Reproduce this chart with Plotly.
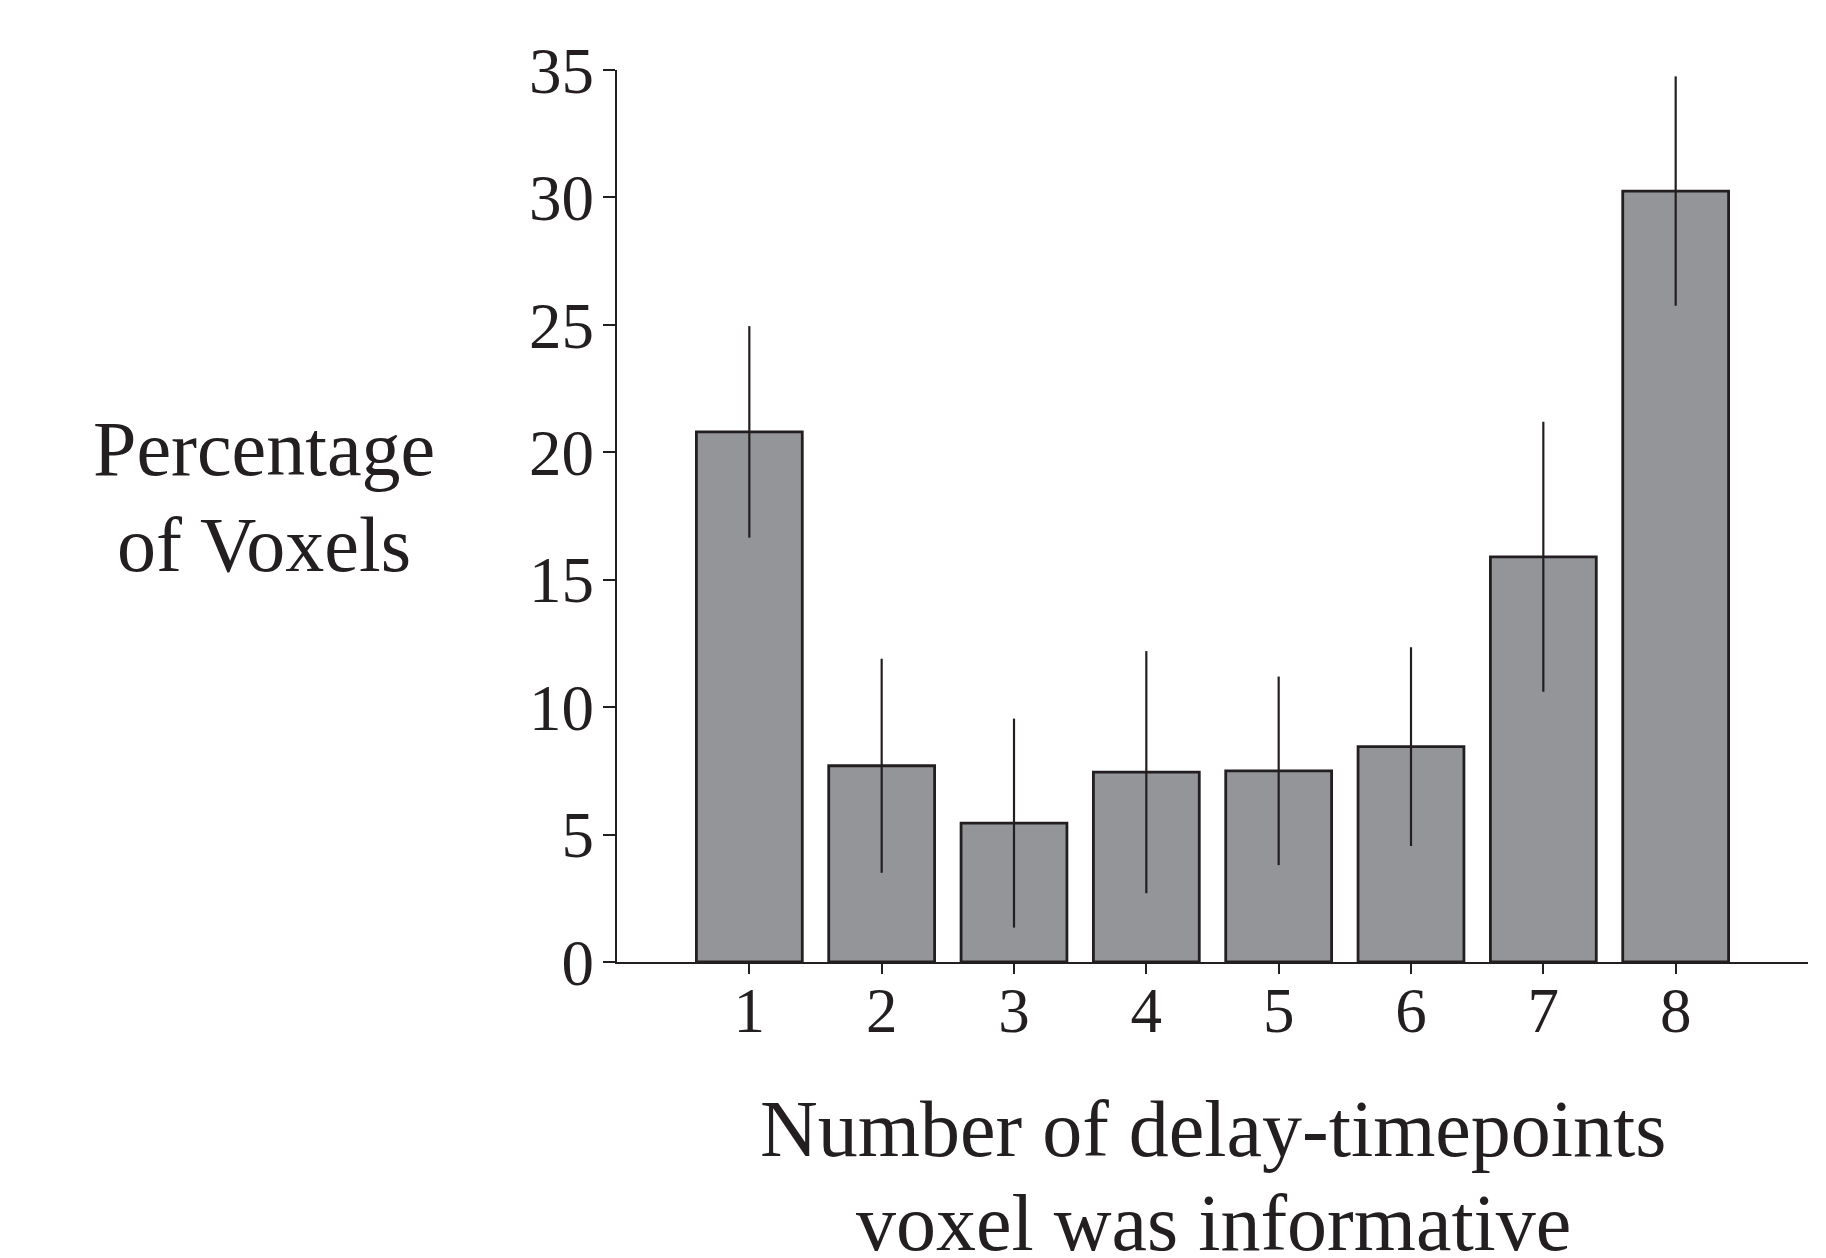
import plotly.graph_objects as go

categories = [1, 2, 3, 4, 5, 6, 7, 8]
percent_voxels = [20.8, 7.7, 5.45, 7.45, 7.5, 8.45, 15.9, 30.25]
error_values = [4.15, 4.2, 4.1, 4.75, 3.7, 3.9, 5.3, 4.5]
y_tick_values = [0, 5, 10, 15, 20, 25, 30, 35]

INK = "#231f20"
FONT = "Liberation Serif"

W, H = 1826, 1258
L, R, T, B = 617, 18, 70, 296
plot_h = H - T - B
plot_w = W - L - R


def py(px):
    return (H - B - px) / plot_h


def pxx(px):
    return (px - L) / plot_w


fig = go.Figure()
fig.add_trace(go.Bar(
    x=categories,
    y=percent_voxels,
    width=0.8,
    marker=dict(color="#939598", line=dict(color=INK, width=2.8)),
    error_y=dict(type="data", array=error_values, symmetric=True,
                 color=INK, thickness=2.2, width=0),
    showlegend=False,
))

fig.update_layout(
    width=W, height=H,
    margin=dict(l=L, r=R, t=T, b=B, autoexpand=False),
    paper_bgcolor="white",
    plot_bgcolor="white",
    font=dict(family=FONT, color=INK, size=62),
    xaxis=dict(
        range=[0, 9],
        tickvals=categories,
        ticktext=[str(c) for c in categories],
        showline=True, linecolor=INK, linewidth=2,
        ticks="outside", ticklen=10, tickwidth=1.5, tickcolor=INK,
        showgrid=False, zeroline=False,
        tickfont=dict(family=FONT, size=63, color=INK),
        ticklabelstandoff=-18,
    ),
    yaxis=dict(
        range=[0, 35],
        tickvals=y_tick_values,
        showline=True, linecolor=INK, linewidth=2,
        ticks="outside", ticklen=12, tickwidth=1.5, tickcolor=INK,
        showgrid=False, zeroline=False,
        tickfont=dict(family=FONT, size=65, color=INK),
        ticklabelstandoff=-4,
    ),
    annotations=[
        dict(text="Percentage", x=pxx(264), y=py(448), xref="paper", yref="paper",
             showarrow=False, xanchor="center", yanchor="middle",
             font=dict(family=FONT, size=78, color=INK)),
        dict(text="of Voxels", x=pxx(264), y=py(544), xref="paper", yref="paper",
             showarrow=False, xanchor="center", yanchor="middle",
             font=dict(family=FONT, size=78, color=INK)),
        dict(text="Number of delay-timepoints", x=pxx(1213), y=py(1129), xref="paper", yref="paper",
             showarrow=False, xanchor="center", yanchor="middle",
             font=dict(family=FONT, size=80, color=INK)),
        dict(text="voxel was informative", x=pxx(1213), y=py(1223), xref="paper", yref="paper",
             showarrow=False, xanchor="center", yanchor="middle",
             font=dict(family=FONT, size=80, color=INK)),
    ],
)

fig.write_html("out.html")
